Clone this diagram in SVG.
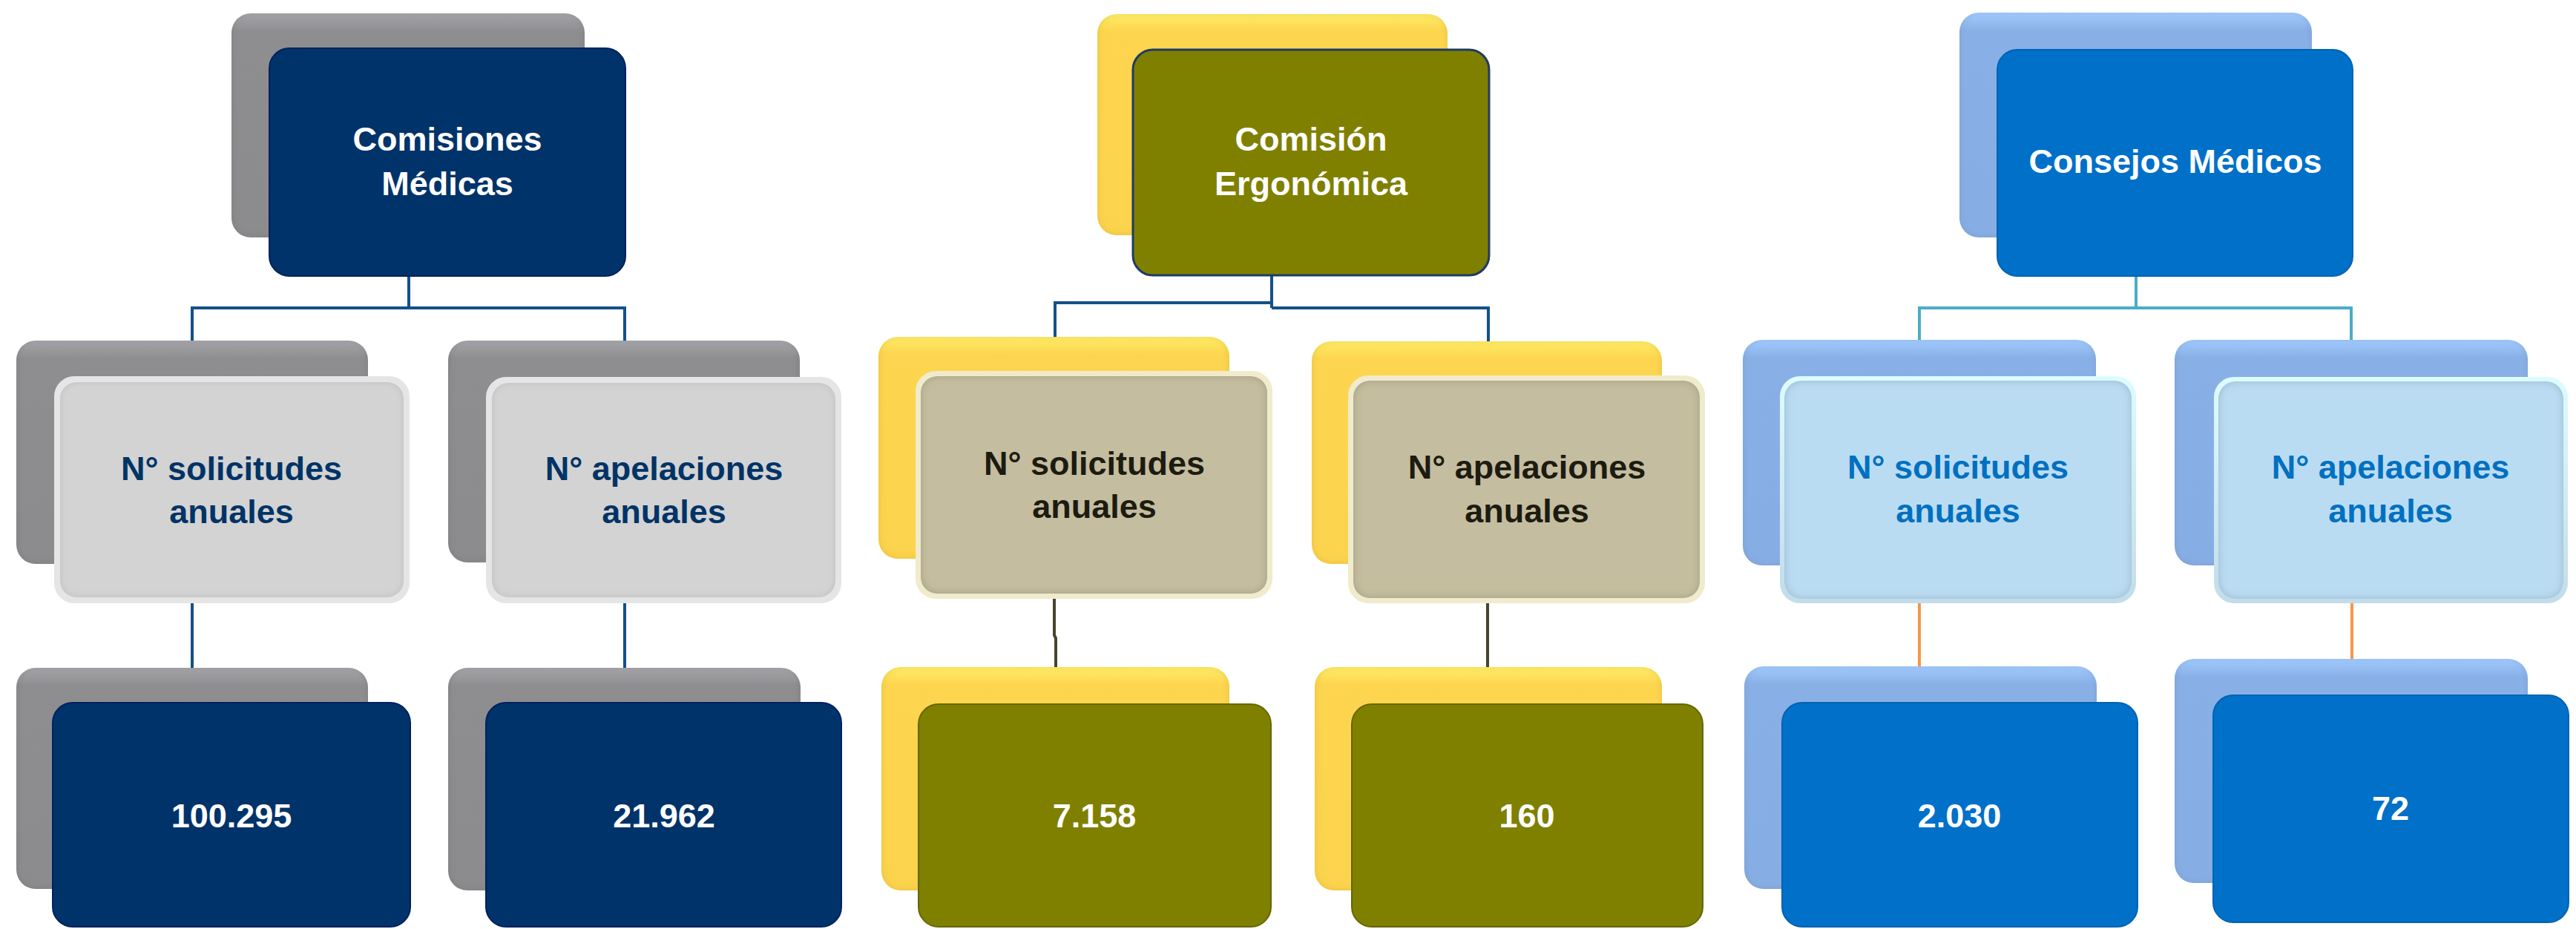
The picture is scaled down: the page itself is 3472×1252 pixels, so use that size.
<svg xmlns="http://www.w3.org/2000/svg" width="3472" height="1252" viewBox="0 0 3472 1252">
<defs>
<linearGradient id="gGray" x1="0" y1="0" x2="0" y2="1"><stop offset="0" stop-color="#a6a6ab"/><stop offset="0.08" stop-color="#8e8e90"/><stop offset="1" stop-color="#8c8c8e"/></linearGradient>
<linearGradient id="gYel" x1="0" y1="0" x2="0" y2="1"><stop offset="0" stop-color="#ffec66"/><stop offset="0.08" stop-color="#fdd54f"/><stop offset="1" stop-color="#fcd34d"/></linearGradient>
<linearGradient id="gBlu" x1="0" y1="0" x2="0" y2="1"><stop offset="0" stop-color="#a2cbff"/><stop offset="0.08" stop-color="#89b0e6"/><stop offset="1" stop-color="#87aee4"/></linearGradient>
<linearGradient id="gLbEdge" x1="0" y1="0" x2="0" y2="1"><stop offset="0" stop-color="#dcfcff"/><stop offset="1" stop-color="#c2dcea"/></linearGradient>
<filter id="bevel" x="-5%" y="-5%" width="110%" height="110%">
<feGaussianBlur in="SourceAlpha" stdDeviation="6" result="b"/>
<feComposite in="SourceAlpha" in2="b" operator="arithmetic" k2="1" k3="-1" result="edge"/>
<feFlood flood-color="#000" flood-opacity="0.35"/>
<feComposite in2="edge" operator="in" result="shade"/>
<feMerge><feMergeNode in="SourceGraphic"/><feMergeNode in="shade"/></feMerge>
</filter>
<filter id="bevelS" x="-5%" y="-5%" width="110%" height="110%">
<feGaussianBlur in="SourceAlpha" stdDeviation="5" result="b"/>
<feComposite in="SourceAlpha" in2="b" operator="arithmetic" k2="1" k3="-1" result="edge"/>
<feFlood flood-color="#000" flood-opacity="0.2"/>
<feComposite in2="edge" operator="in" result="shade"/>
<feMerge><feMergeNode in="SourceGraphic"/><feMergeNode in="shade"/></feMerge>
</filter>
</defs>
<style>
text{font-family:"Liberation Sans",Arial,sans-serif;font-weight:bold;text-anchor:middle;font-size:45px}
.bg{fill:url(#gGray);filter:url(#bevelS)}
.by{fill:url(#gYel);filter:url(#bevelS)}
.bb{fill:url(#gBlu);filter:url(#bevelS)}
.navy{fill:#003369;stroke:#00215e;stroke-width:2}
.olive{fill:#808000;stroke:#666600;stroke-width:2}
.oliveTop{fill:#808000;stroke:#1f3b63;stroke-width:3}
.blue{fill:#0070c8;stroke:#0063b3;stroke-width:2}
.lgO{fill:#e5e5e5}
.lgI{fill:#d3d3d3;filter:url(#bevelS)}
.beO{fill:#efebcc}
.beI{fill:#c4bd9f;filter:url(#bevel)}
.lbO{fill:url(#gLbEdge)}
.lbI{fill:#badcf3;filter:url(#bevel)}
.tw{fill:#ffffff}
.tn{fill:#003366}
.tk{fill:#1d1b10}
.tb{fill:#0070c0}
.c{fill:none;stroke-width:4}
.cn{stroke:#13508a}
.ck{stroke:#48432e}
.ct{stroke:#4bacc6}
.co{stroke:#f79646}
</style>
<g id="connectors">
<path class="c cn" d="M551 372V415M259 459V415H842V459"/>
<path class="c cn" d="M259 813V900M842 813V900"/>
<path class="c cn" d="M1714 371V415M1422 454V408H1714M1714 415H2006V460"/>
<path class="c ck" d="M1421 807V856L1423 860V900M2005 813V900"/>
<path class="c ct" d="M2879 372V415M2587 458V415H3169V458"/>
<path class="c co" d="M2587 813V898M3170 813V888"/>
</g>
<g id="comisiones-medicas">
<rect class="bg" x="312" y="18" width="476" height="302" rx="26"/>
<rect class="navy" x="363" y="65" width="480" height="307" rx="27"/>
<text class="tw" x="603" y="203">Comisiones</text>
<text class="tw" x="603" y="263">Médicas</text>
</g>
<g id="cm-solicitudes">
<rect class="bg" x="22" y="459" width="474" height="301" rx="26"/>
<rect class="lgO" x="73" y="507" width="479" height="306" rx="27"/>
<rect class="lgI" x="81" y="515" width="463" height="290" rx="22"/>
<text class="tn" x="312" y="647">N° solicitudes</text>
<text class="tn" x="312" y="705">anuales</text>
</g>
<g id="cm-apelaciones">
<rect class="bg" x="604" y="459" width="474" height="299" rx="26"/>
<rect class="lgO" x="655" y="508" width="479" height="305" rx="27"/>
<rect class="lgI" x="663" y="516" width="463" height="289" rx="22"/>
<text class="tn" x="895" y="647">N° apelaciones</text>
<text class="tn" x="895" y="705">anuales</text>
</g>
<g id="cm-solicitudes-valor">
<rect class="bg" x="22" y="900" width="474" height="298" rx="26"/>
<rect class="navy" x="71" y="947" width="482" height="302" rx="27"/>
<text class="tw" x="312" y="1115">100.295</text>
</g>
<g id="cm-apelaciones-valor">
<rect class="bg" x="604" y="900" width="475" height="300" rx="26"/>
<rect class="navy" x="655" y="947" width="479" height="302" rx="27"/>
<text class="tw" x="895" y="1115">21.962</text>
</g>
<g id="comision-ergonomica">
<rect class="by" x="1479" y="19" width="472" height="298" rx="26"/>
<rect class="oliveTop" x="1527" y="67" width="480" height="304" rx="27"/>
<text class="tw" x="1767" y="203">Comisión</text>
<text class="tw" x="1767" y="263">Ergonómica</text>
</g>
<g id="ce-solicitudes">
<rect class="by" x="1184" y="454" width="473" height="299" rx="26"/>
<rect class="beO" x="1234" y="500" width="481" height="307" rx="27"/>
<rect class="beI" x="1241" y="507" width="467" height="293" rx="22"/>
<text class="tk" x="1475" y="640">N° solicitudes</text>
<text class="tk" x="1475" y="698">anuales</text>
</g>
<g id="ce-apelaciones">
<rect class="by" x="1768" y="460" width="472" height="300" rx="26"/>
<rect class="beO" x="1817" y="506" width="481" height="307" rx="27"/>
<rect class="beI" x="1824" y="513" width="467" height="293" rx="22"/>
<text class="tk" x="2058" y="645">N° apelaciones</text>
<text class="tk" x="2058" y="704">anuales</text>
</g>
<g id="ce-solicitudes-valor">
<rect class="by" x="1188" y="899" width="469" height="301" rx="26"/>
<rect class="olive" x="1238" y="949" width="475" height="300" rx="27"/>
<text class="tw" x="1475" y="1115">7.158</text>
</g>
<g id="ce-apelaciones-valor">
<rect class="by" x="1772" y="899" width="468" height="301" rx="26"/>
<rect class="olive" x="1822" y="949" width="473" height="300" rx="27"/>
<text class="tw" x="2058" y="1115">160</text>
</g>
<g id="consejos-medicos">
<rect class="bb" x="2641" y="17" width="475" height="303" rx="26"/>
<rect class="blue" x="2692" y="67" width="479" height="305" rx="27"/>
<text class="tw" x="2932" y="233">Consejos Médicos</text>
</g>
<g id="cdm-solicitudes">
<rect class="bb" x="2349" y="458" width="476" height="304" rx="26"/>
<rect class="lbO" x="2399" y="507" width="480" height="306" rx="27"/>
<rect class="lbI" x="2405" y="513" width="468" height="294" rx="23"/>
<text class="tb" x="2639" y="645">N° solicitudes</text>
<text class="tb" x="2639" y="704">anuales</text>
</g>
<g id="cdm-apelaciones">
<rect class="bb" x="2931" y="458" width="476" height="304" rx="26"/>
<rect class="lbO" x="2984" y="508" width="477" height="305" rx="27"/>
<rect class="lbI" x="2990" y="514" width="465" height="293" rx="23"/>
<text class="tb" x="3222" y="645">N° apelaciones</text>
<text class="tb" x="3222" y="704">anuales</text>
</g>
<g id="cdm-solicitudes-valor">
<rect class="bb" x="2351" y="898" width="475" height="300" rx="26"/>
<rect class="blue" x="2402" y="947" width="479" height="302" rx="27"/>
<text class="tw" x="2641" y="1115">2.030</text>
</g>
<g id="cdm-apelaciones-valor">
<rect class="bb" x="2931" y="888" width="476" height="302" rx="26"/>
<rect class="blue" x="2983" y="937" width="479" height="306" rx="27"/>
<text class="tw" x="3222" y="1105">72</text>
</g>
</svg>
